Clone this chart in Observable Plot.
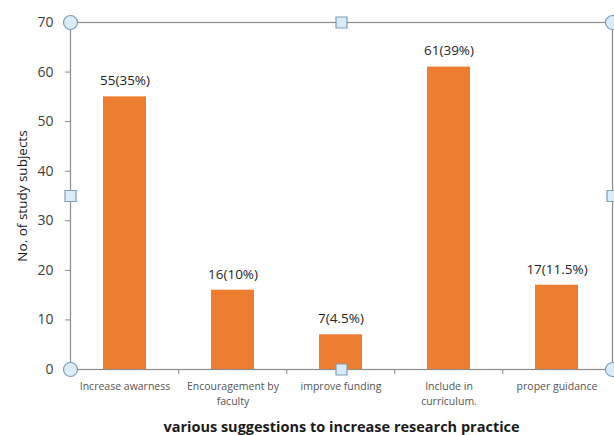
<!DOCTYPE html>
<html>
<head>
<meta charset="utf-8">
<script src="https://cdn.jsdelivr.net/npm/d3@7"></script>
<script src="https://cdn.jsdelivr.net/npm/@observablehq/plot@0.6"></script>
<style>
  html, body { margin: 0; padding: 0; background: #fff; overflow: hidden; }
  #chart svg { display: block; }
</style>
</head>
<body>
<div id="chart"></div>
<script>
const categories = ["Increase awarness", "Encouragement by faculty", "improve funding", "Include in curriculum.", "proper guidance"];
const tickLabels = ["Increase awarness", "Encouragement by\nfaculty", "improve funding", "Include in\ncurriculum.", "proper guidance"];
const counts = [55, 16, 7, 61, 17];
const valueLabels = ["55(35%)", "16(10%)", "7(4.5%)", "61(39%)", "17(11.5%)"];
const yTicks = [0, 10, 20, 30, 40, 50, 60, 70];
const yTitle = "No. of study subjects";
const xTitle = "various suggestions to increase research practice";

const data = categories.map((c, i) => ({cat: c, n: counts[i], label: valueLabels[i]}));

const W = 614, H = 435;
const mL = 70, mR = 2, mT = 22, mB = 66;
const step = (W - mL - mR) / categories.length;

const chart = Plot.plot({
  width: W,
  height: H,
  marginLeft: mL,
  marginRight: mR,
  marginTop: mT,
  marginBottom: mB,
  style: {fontFamily: "'Open Sans', sans-serif", background: "#fff", overflow: "visible"},
  x: {domain: categories, paddingInner: 0.6, paddingOuter: 0.3},
  y: {domain: [0, 70]},
  marks: [
    Plot.frame({stroke: "#8a8a8a", strokeWidth: 1.2}),
    Plot.axisY({ticks: yTicks, tickSize: 5, tickPadding: 12, fontSize: 14, color: "#404040", stroke: "#8a8a8a", label: null}),
    Plot.axisX({tickSize: 0, tickPadding: 10, fontSize: 10.5, lineHeight: 1.4, fill: "#555", tickFormat: (d) => tickLabels[categories.indexOf(d)], label: null}),
    Plot.axisX({ticks: categories.slice(1), tickSize: 5, tickFormat: () => "", dx: -step / 2, stroke: "#8a8a8a", label: null}),
    Plot.barY(data, {x: "cat", y: "n", fill: "#ED7D31"}),
    Plot.text(data, {x: "cat", y: "n", text: "label", dy: -16, fontSize: 13.5, fill: "#262626", lineAnchor: "middle"}),
    Plot.text([yTitle], {frameAnchor: "left", textAnchor: "middle", lineAnchor: "middle", rotate: -90, dx: -48, fontSize: 13.5, fill: "#1a1a1a"}),
    Plot.text([xTitle], {frameAnchor: "bottom", lineAnchor: "middle", dy: 58, fontSize: 14.5, fontWeight: "bold", fill: "#1a1a1a"}),
    // selection handles around the chart frame
    ...["top-left", "top-right", "bottom-left", "bottom-right"].map(a =>
      Plot.dot([0], {frameAnchor: a, r: 7, fill: "#d9ecf7", stroke: "#7f9db5", strokeWidth: 1.2})),
    ...["top", "left", "right", "bottom"].map(a =>
      Plot.dot([0], {frameAnchor: a, symbol: "square", r: 6.2, fill: "#d9ecf7", stroke: "#7f9db5", strokeWidth: 1.2}))
  ]
});
document.getElementById("chart").appendChild(chart);
</script>
</body>
</html>
